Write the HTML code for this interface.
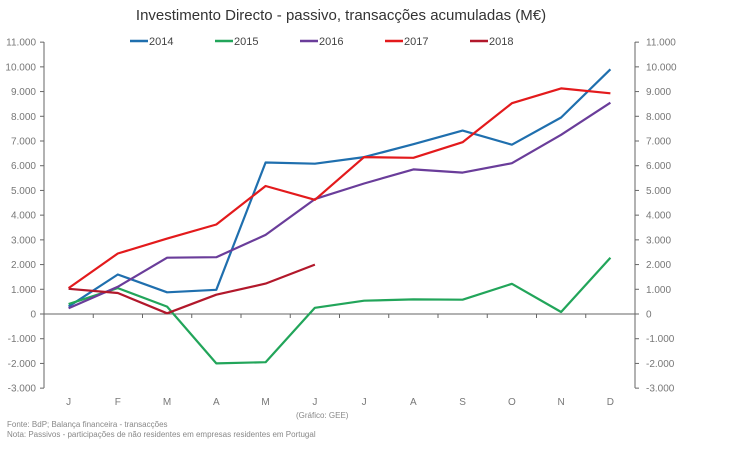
<!DOCTYPE html>
<html><head><style>body{margin:0;background:#fff}svg{font-family:"Liberation Sans",sans-serif}</style></head><body>
<svg width="750" height="444" viewBox="0 0 750 444" xmlns="http://www.w3.org/2000/svg">
<text x="341" y="20" font-size="15" fill="#333" text-anchor="middle">Investimento Directo - passivo, transacções acumuladas (M€)</text>
<g id="ax" stroke="#666" stroke-width="1"></g>
<g id="lab" font-size="10" fill="#777"></g>
<g id="ser" fill="none" stroke-width="2.2" stroke-linejoin="round"></g>
<g font-size="11" fill="#444">
<line x1="130" y1="41" x2="148" y2="41" stroke="#1f6fae" stroke-width="2.5"/><text x="149" y="45">2014</text>
<line x1="215" y1="41" x2="233" y2="41" stroke="#22a55a" stroke-width="2.5"/><text x="234" y="45">2015</text>
<line x1="300" y1="41" x2="318" y2="41" stroke="#6a3d9a" stroke-width="2.5"/><text x="319" y="45">2016</text>
<line x1="385" y1="41" x2="403" y2="41" stroke="#e31a1c" stroke-width="2.5"/><text x="404" y="45">2017</text>
<line x1="470" y1="41" x2="488" y2="41" stroke="#b2182b" stroke-width="2.5"/><text x="489" y="45">2018</text>
</g>
<text x="296" y="418" font-size="8" fill="#888">(Gráfico: GEE)</text>
<text x="7" y="427" font-size="8" fill="#888">Fonte: BdP; Balança financeira - transacções</text>
<text x="7" y="437" font-size="8" fill="#888">Nota: Passivos - participações de não residentes em empresas residentes em Portugal</text>
</svg>
<script>
const ns="http://www.w3.org/2000/svg";
const Y=v=>314-v*0.024714, X=i=>44+24.6+49.25*i;
function el(p,t,a,txt){const e=document.createElementNS(ns,t);for(const k in a)e.setAttribute(k,a[k]);if(txt!=null)e.textContent=txt;document.getElementById(p).appendChild(e);}
el("ax","line",{x1:44,y1:42,x2:44,y2:388});
el("ax","line",{x1:635,y1:42,x2:635,y2:388});
el("ax","line",{x1:44,y1:314,x2:635,y2:314});
for(let v=-3000;v<=11000;v+=1000){const y=Y(v);
el("ax","line",{x1:40,y1:y,x2:44,y2:y});el("ax","line",{x1:635,y1:y,x2:639,y2:y});
const s=v===0?"0":(v<0?"-":"")+Math.floor(Math.abs(v)/1000)+".000";
el("lab","text",{x:36,y:y+3.5,"text-anchor":"end"},s);el("lab","text",{x:646,y:y+3.5},s);}
for(let i=1;i<12;i++){const x=44+49.25*i;el("ax","line",{x1:x,y1:314,x2:x,y2:318});}
"JFMAMJJASOND".split("").forEach((c,i)=>el("lab","text",{x:X(i),y:405,"text-anchor":"middle"},c));
const D={"#1f6fae":[300,1600,880,980,6130,6080,6350,6870,7420,6850,7950,9900],
"#22a55a":[400,1050,300,-2000,-1950,250,540,590,580,1220,80,2280],
"#6a3d9a":[230,1100,2280,2300,3200,4650,5280,5850,5720,6100,7250,8550],
"#e31a1c":[1050,2450,3050,3620,5180,4620,6350,6320,6950,8530,9130,8930],
"#b2182b":[1020,850,30,780,1230,2000]};
for(const c in D)el("ser","polyline",{stroke:c,points:D[c].map((v,i)=>X(i).toFixed(1)+","+Y(v).toFixed(1)).join(" ")});
</script>
</body></html>
